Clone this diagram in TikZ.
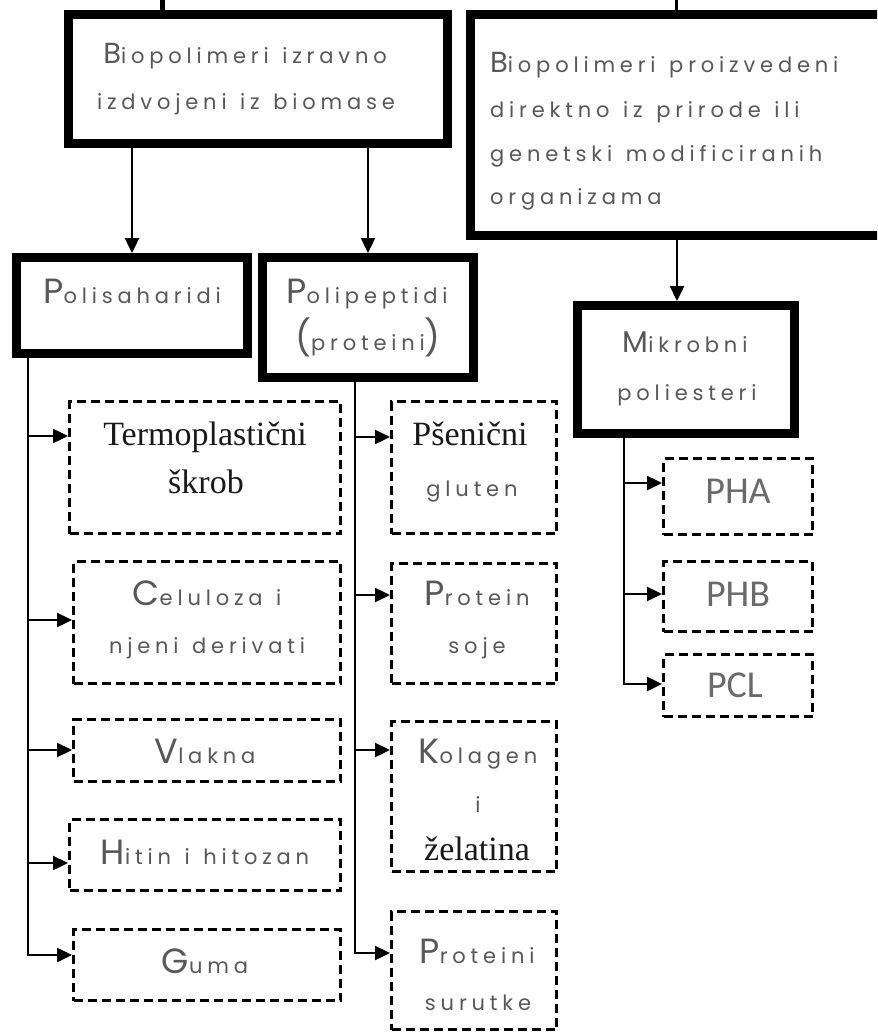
\documentclass[tikz,border=0pt]{standalone}
\usepackage{fontspec}
\usetikzlibrary{arrows.meta}
\newfontfamily\gf{Poppins}[LetterSpace=23, WordSpace=1.3]
\newfontfamily\serf{Liberation Serif}
\newfontfamily\carl{Carlito}
\definecolor{tg}{HTML}{585858}
\definecolor{pg}{HTML}{6A6A6A}
\newcommand\Ini[2][35]{{\fontsize{#1}{#1}\selectfont #2}}
\tikzset{
  tbox/.style={draw=black, line width=9pt, rectangle, inner sep=0pt, outer sep=4.5pt, fill=white},
  dbox/.style={draw=black, line width=3pt, dash pattern=on 9pt off 5pt, rectangle, inner sep=0pt, outer sep=1.5pt},
  lbl/.style={anchor=base, inner sep=0pt, text=tg, font=\gf\fontsize{21}{21}\selectfont},
  lblw/.style={lbl, anchor=base west},
  serl/.style={anchor=base, inner sep=0pt, text=black!90, font=\serf\fontsize{34}{34}\selectfont},
  pl/.style={anchor=base, inner sep=0pt, text=pg, font=\carl\fontsize{38}{38}\selectfont},
  conn/.style={line width=2.4pt},
  arr/.style={conn, -{Triangle[length=15pt,width=14pt]}}
}
\begin{document}
\begin{tikzpicture}[x=1pt,y=-1pt]
\useasboundingbox (0,0) rectangle (877,1032);
\clip (0,0) rectangle (877,1032);
\fill[white] (0,0) rectangle (877,1032);

% main boxes
\node[tbox, minimum width=379pt, minimum height=129pt] (A) at (258,79) {};
\node[tbox, minimum width=429.5pt, minimum height=221pt] (B) at (685.25,125) {};
\node[tbox, minimum width=231pt, minimum height=96pt] (P1) at (132,305.5) {};
\node[tbox, minimum width=211pt, minimum height=120pt] (P2) at (368,317.5) {};
\node[tbox, minimum width=217pt, minimum height=128pt] (M) at (686,369.5) {};

% dashed boxes, left column
\node[dbox, minimum width=271pt, minimum height=132pt] (T1) at (205,467.5) {};
\node[dbox, minimum width=267pt, minimum height=122pt] (C1) at (207,622.5) {};
\node[dbox, minimum width=267pt, minimum height=62pt] (V1) at (207,750.5) {};
\node[dbox, minimum width=271pt, minimum height=71pt] (H1) at (205,855) {};
\node[dbox, minimum width=267pt, minimum height=71pt] (G1) at (207,965) {};
% middle column
\node[dbox, minimum width=165pt, minimum height=132pt] (S1) at (474,467.5) {};
\node[dbox, minimum width=165pt, minimum height=120pt] (S2) at (474,623.5) {};
\node[dbox, minimum width=165pt, minimum height=150pt] (S3) at (474,796.5) {};
\node[dbox, minimum width=165pt, minimum height=118pt] (S4) at (474,970.5) {};
% right column
\node[dbox, minimum width=149pt, minimum height=76pt] (R1) at (738,496.5) {};
\node[dbox, minimum width=149pt, minimum height=70pt] (R2) at (738,596.5) {};
\node[dbox, minimum width=149pt, minimum height=62pt] (R3) at (738,685.5) {};

% stubs at the top
\coordinate (ta) at (162,0);
\coordinate (tb) at (676,0);
\draw[line width=5pt] (ta) -- (A.north -| ta);
\draw[line width=3pt] (tb) -- (B.north -| tb);

% connectors from main boxes
\draw[arr] (A.south -| P1.north) -- (P1.north);
\draw[arr] (A.south -| P2.north) -- (P2.north);
\coordinate (bm) at (677,0);
\draw[arr] (B.south -| bm) -- (M.north -| bm);

% left trunk
\coordinate (l1) at (28,436);
\coordinate (l2) at (28,620);
\coordinate (l3) at (28,750);
\coordinate (l4) at (28,863);
\coordinate (l5) at (28,955);
\draw[arr] (P1.south -| l5) -- (l5) -- (G1.west |- l5);
\draw[arr] (l1) -- (T1.west |- l1);
\draw[arr] (l2) -- (C1.west |- l2);
\draw[arr] (l3) -- (V1.west |- l3);
\draw[arr] (l4) -- (H1.west |- l4);

% middle trunk
\coordinate (m1) at (355,437);
\coordinate (m2) at (355,595);
\coordinate (m3) at (355,750);
\coordinate (m4) at (355,953);
\draw[arr] (P2.south -| m4) -- (m4) -- (S4.west |- m4);
\draw[arr] (m1) -- (S1.west |- m1);
\draw[arr] (m2) -- (S2.west |- m2);
\draw[arr] (m3) -- (S3.west |- m3);

% right trunk
\coordinate (r1) at (624,483);
\coordinate (r2) at (624,594);
\coordinate (r3) at (624,684);
\draw[arr] (M.south -| r3) -- (r3) -- (R3.west |- r3);
\draw[arr] (r1) -- (R1.west |- r1);
\draw[arr] (r2) -- (R2.west |- r2);

% texts
\node[lbl] (tA1) at (245,64) {\Ini[29]{B}iopolimeri izravno};
\node[lbl] (tA2) at (246,110) {izdvojeni iz biomase};
\node[lblw] (tB1) at (490,73) {\Ini[29]{B}iopolimeri proizvedeni};
\node[lblw] (tB2) at (490,118) {direktno iz prirode ili};
\node[lblw] (tB3) at (490,162) {genetski modificiranih};
\node[lblw] (tB4) at (490,205) {organizama};
\node[lbl] (tP1) at (132,303) {\Ini{P}olisaharidi};
\node[lbl] (tP2a) at (367,303) {\Ini{P}olipeptidi};
\node[lbl] (tP2b) at (368,350) {\Ini{(}proteini\Ini{)}};
\node[lbl] (tM1) at (685,352) {\Ini[30]{M}ikrobni};
\node[lbl] (tM2) at (687,400) {poliesteri};

\node[serl] (tT1a) at (205,445) {Termoplastični};
\node[serl] (tT1b) at (206,493) {škrob};
\node[lbl] (tC1a) at (207,605) {\Ini{C}eluloza i};
\node[lbl] (tC1b) at (207,653) {njeni derivati};
\node[lbl] (tV1) at (205,763) {\Ini{V}lakna};
\node[lbl] (tH1) at (205,864) {\Ini{H}itin i hitozan};
\node[lbl] (tG1) at (205,973) {\Ini{G}uma};

\node[serl] (tS1a) at (470,445) {Pšenični};
\node[lbl] (tS1b) at (472,496) {gluten};
\node[lbl] (tS2a) at (477,605) {\Ini{P}rotein};
\node[lbl] (tS2b) at (477,653) {soje};
\node[lbl] (tS3a) at (478,763) {\Ini{K}olagen};
\node[lbl] (tS3b) at (478,812) {i};
\node[serl] (tS3c) at (477,860) {želatina};
\node[lbl] (tS4a) at (477,963) {\Ini{P}roteini};
\node[lbl] (tS4b) at (478,1010) {surutke};

\node[pl] (tR1) at (738,503) {PHA};
\node[pl] (tR2) at (738,606) {PHB};
\node[pl] (tR3) at (735,697) {PCL};
\end{tikzpicture}
\end{document}
